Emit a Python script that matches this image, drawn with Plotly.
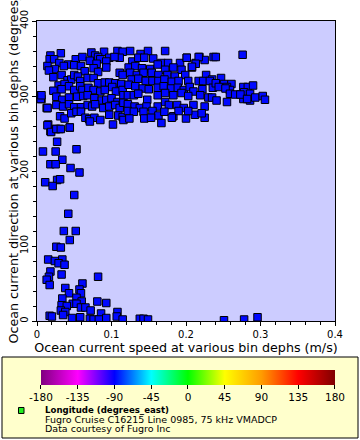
import plotly.graph_objects as go

# current speed (m/s) and direction (degrees) at the bin depths
speed_dense_left = [0.018, 0.032, 0.073, 0.090, 0.108, 0.115, 0.078, 0.082, 0.085, 0.097, 0.111, 0.017,
                    0.023, 0.030, 0.042, 0.052, 0.061, 0.071, 0.080, 0.093, 0.104, 0.014, 0.024, 0.036,
                    0.050, 0.059, 0.064, 0.076, 0.082, 0.093, 0.111, 0.115, 0.016, 0.022, 0.033, 0.041,
                    0.046, 0.050, 0.055, 0.058, 0.068, 0.076, 0.082, 0.091, 0.097, 0.105, 0.113, 0.029,
                    0.037, 0.043, 0.050, 0.058, 0.061, 0.069, 0.076, 0.085, 0.091, 0.101, 0.106, 0.115,
                    0.022, 0.033, 0.005, 0.006, 0.026, 0.034, 0.043, 0.054, 0.062, 0.068, 0.077, 0.087,
                    0.093, 0.100, 0.108, 0.116, 0.026, 0.035, 0.043, 0.050, 0.059, 0.068, 0.074, 0.078,
                    0.089, 0.097, 0.105, 0.111, 0.116, 0.013, 0.031, 0.037, 0.046, 0.053, 0.059, 0.065,
                    0.070, 0.077, 0.085, 0.097, 0.109, 0.115, 0.015, 0.025, 0.030, 0.044, 0.018, 0.071,
                    0.102, 0.116, 0.014]
dir_dense_left = [354, 357, 358, 359, 360, 359, 354, 352, 349, 351, 351, 349,
                  349, 344, 342, 349, 352, 347, 343, 346, 352, 340, 336, 340,
                  341, 340, 333, 337, 332, 338, 331, 328, 334, 325, 328, 321,
                  322, 328, 326, 320, 324, 324, 317, 318, 318, 317, 316, 314,
                  316, 313, 308, 313, 308, 311, 308, 306, 308, 312, 306, 308,
                  307, 309, 301, 296, 299, 295, 298, 299, 300, 301, 297, 294,
                  295, 297, 292, 301, 288, 286, 289, 285, 285, 288, 286, 289,
                  284, 286, 288, 284, 291, 284, 273, 270, 277, 279, 279, 271,
                  269, 271, 268, 275, 274, 272, 262, 256, 256, 258, 253, 266,
                  262, 268, 284]

speed_dense_mid = [0.125, 0.139, 0.149, 0.172, 0.128, 0.136, 0.144, 0.156, 0.167, 0.176, 0.192, 0.201,
                   0.213, 0.218, 0.225, 0.237, 0.123, 0.132, 0.141, 0.152, 0.162, 0.172, 0.183, 0.194,
                   0.208, 0.125, 0.134, 0.143, 0.154, 0.163, 0.175, 0.185, 0.199, 0.227, 0.235, 0.127,
                   0.136, 0.146, 0.155, 0.163, 0.171, 0.181, 0.190, 0.203, 0.217, 0.223, 0.232, 0.123,
                   0.132, 0.142, 0.150, 0.162, 0.170, 0.180, 0.189, 0.197, 0.205, 0.210, 0.222, 0.236,
                   0.122, 0.130, 0.136, 0.148, 0.162, 0.172, 0.183, 0.194, 0.203, 0.219, 0.230, 0.235,
                   0.122, 0.131, 0.138, 0.147, 0.162, 0.172, 0.177, 0.188, 0.197, 0.210, 0.225, 0.122,
                   0.130, 0.143, 0.155, 0.163, 0.171, 0.183, 0.190, 0.200, 0.212, 0.225, 0.124, 0.144,
                   0.153, 0.167, 0.181, 0.203, 0.221, 0.201, 0.217, 0.213, 0.208]
dir_dense_mid = [360, 356, 360, 360, 346, 351, 351, 350, 344, 344, 344, 351,
                 344, 352, 348, 352, 338, 340, 337, 336, 342, 335, 338, 335,
                 338, 331, 328, 331, 331, 328, 328, 326, 328, 328, 322, 322,
                 323, 320, 320, 320, 322, 319, 320, 320, 320, 320, 320, 315,
                 313, 310, 309, 311, 313, 310, 311, 308, 312, 306, 309, 311,
                 301, 301, 303, 295, 301, 304, 301, 304, 300, 301, 298, 298,
                 289, 286, 284, 286, 286, 292, 288, 288, 284, 288, 286, 280,
                 279, 279, 280, 274, 279, 273, 280, 270, 275, 271, 270, 270,
                 271, 264, 271, 280, 277, 351, 352, 343, 339]

speed_dense_right = [0.240, 0.276, 0.247, 0.240, 0.251, 0.261, 0.244, 0.255, 0.259, 0.253, 0.259, 0.266,
                     0.277, 0.283, 0.290, 0.278, 0.286, 0.277, 0.286, 0.293, 0.303, 0.306, 0.241, 0.255,
                     0.273, 0.282]
dir_dense_right = [352, 355, 324, 317, 316, 316, 312, 312, 308, 310, 303, 302,
                   312, 312, 314, 305, 303, 296, 294, 298, 300, 295, 294, 292,
                   302, 296]

speed_sparse = [0.005, 0.006, 0.014, 0.014, 0.019, 0.026, 0.032, 0.027, 0.044, 0.053, 0.008, 0.025,
                0.034, 0.018, 0.025, 0.045, 0.057, 0.011, 0.027, 0.031, 0.021, 0.050, 0.042, 0.036,
                0.052, 0.044, 0.015, 0.024, 0.034, 0.026, 0.032, 0.029, 0.037, 0.018, 0.016, 0.013,
                0.017, 0.033, 0.082, 0.038, 0.061, 0.057, 0.043, 0.059, 0.053, 0.034, 0.060, 0.081,
                0.093, 0.048, 0.033, 0.040, 0.053, 0.059, 0.065, 0.072, 0.032, 0.038, 0.035, 0.086,
                0.108, 0.017, 0.020, 0.047, 0.058, 0.071, 0.076, 0.083, 0.093, 0.107, 0.115, 0.138,
                0.143, 0.149, 0.251, 0.278, 0.296]
dir_sparse = [296, 301, 284, 261, 252, 256, 256, 239, 258, 229, 226, 226,
              215, 209, 209, 204, 198, 185, 188, 189, 180, 168, 143, 120,
              120, 108, 82, 80, 82, 99, 98, 77, 75, 66, 59, 55,
              48, 62, 59, 44, 50, 42, 37, 37, 31, 30, 26, 26,
              24, 23, 21, 20, 23, 18, 18, 14, 14, 12, 8, 10,
              12, 7, 6, 4, 5, 3, 2, 2, 4, 6, 2, 3,
              3, 2, 1, 2, 5]

speed = speed_dense_left + speed_dense_mid + speed_dense_right + speed_sparse
direction = dir_dense_left + dir_dense_mid + dir_dense_right + dir_sparse

LONGITUDE = -88.6  # ship track longitude, constant along this line
longitude = [LONGITUDE for _ in speed]

cbar_ticks = [-180, -135, -90, -45, 0, 45, 90, 135, 180]
cbar_labels = ['-180', '-135', '-90', '-45', '0', '45', '90', '135', '180']
rainbow2 = [[0.0, '#800080'], [0.125, '#ff00ff'], [0.25, '#0000ff'], [0.375, '#00ffff'],
            [0.5, '#00ff00'], [0.625, '#ffff00'], [0.75, '#ff9c00'], [0.875, '#ff0000'],
            [1.0, '#800000']]

font = 'DejaVu Sans'

fig = go.Figure(go.Scatter(
    x=speed, y=direction, mode='markers', cliponaxis=True,
    marker=dict(symbol='square', size=7.5, color=longitude, colorscale=rainbow2,
                cmin=-180, cmax=180, line=dict(color='black', width=1),
                colorbar=dict(orientation='h', lenmode='pixels', len=294, thickness=15,
                              x=0.5067, xanchor='center', y=-0.1633, yanchor='top',
                              xpad=0, ypad=0, outlinewidth=0,
                              tickvals=cbar_ticks, ticktext=cbar_labels,
                              ticks='outside', ticklen=4, tickcolor='black',
                              tickfont=dict(family=font, size=10.5, color='black'))),
    hoverinfo='x+y'))

axis_common = dict(showline=True, linecolor='black', linewidth=1, mirror=True,
                   ticks='outside', ticklen=4, tickcolor='black', showgrid=False,
                   zeroline=False, automargin=False,
                   tickfont=dict(family=font, size=10, color='black'))

fig.update_layout(
    width=360, height=440,
    margin=dict(l=37, r=25, t=21, b=119, autoexpand=False),
    paper_bgcolor='white', plot_bgcolor='#ccccff',
    showlegend=False,
    font=dict(family=font, color='black'),
    xaxis=dict(range=[0, 0.4], tickvals=[0, 0.1, 0.2, 0.3, 0.4],
               ticktext=['0', '0.1', '0.2', '0.3', '0.4'],
               minor=dict(dtick=0.02, ticks='outside', ticklen=3, tickcolor='black'),
               title=dict(text='Ocean current speed at various bin dephs (m/s)',
                          font=dict(family=font, size=12.7), standoff=4),
               **axis_common),
    yaxis=dict(range=[0, 400], dtick=100, tickangle=-90,
               minor=dict(dtick=20, ticks='outside', ticklen=3, tickcolor='black'),
               **axis_common),
    shapes=[
        dict(type='rect', xref='paper', yref='paper', x0=-0.1174, x1=1.0772, y0=-0.39, y1=-0.12,
             fillcolor='#ffffcc', line=dict(color='black', width=1), layer='below'),
        dict(type='rect', xref='paper', yref='paper', x0=-0.0621, x1=-0.0436, y0=-0.3083, y1=-0.2883,
             fillcolor='#22ee22', line=dict(color='black', width=1)),
    ],
    annotations=[
        dict(text='Ocean current direction at various bin dephs (degrees_true)', textangle=-90,
             xref='paper', yref='paper', x=-0.0772, y=-0.08, xanchor='center', yanchor='bottom',
             showarrow=False, font=dict(family=font, size=12.7)),
        dict(text='<b>Longitude (degrees_east)</b>', xref='paper', yref='paper',
             x=0.0201, y=-0.2967, xanchor='left', yanchor='middle', showarrow=False,
             font=dict(family=font, size=8.6)),
        dict(text='Fugro Cruise C16215 Line 0985, 75 kHz VMADCP', xref='paper', yref='paper',
             x=0.0201, y=-0.3267, xanchor='left', yanchor='middle', showarrow=False,
             font=dict(family=font, size=9.5)),
        dict(text='Data courtesy of Fugro Inc', xref='paper', yref='paper',
             x=0.0201, y=-0.3567, xanchor='left', yanchor='middle', showarrow=False,
             font=dict(family=font, size=9.5)),
    ],
)

fig.write_html('out.html', config={'displayModeBar': False},
               post_script="document.body.style.margin='0';")
